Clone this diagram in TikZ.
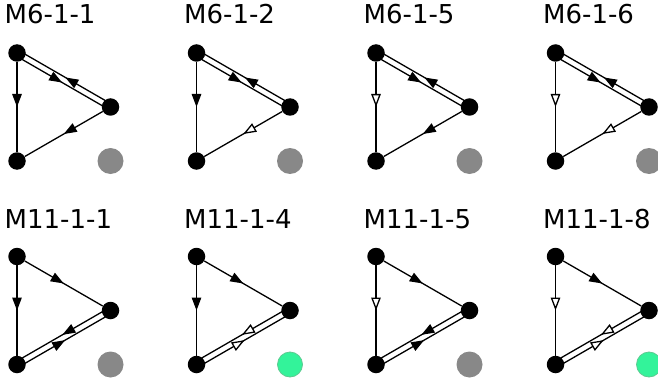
\documentclass[tikz,border=0pt]{standalone}
\usepackage{fontspec}
\setmainfont{DejaVu Sans}
\usetikzlibrary{positioning,calc,arrows.meta,decorations.markings}
\definecolor{flaggrey}{HTML}{888888}
\definecolor{flaggreen}{HTML}{33F39A}
\definecolor{flagedge}{HTML}{5CC990}
\tikzset{
vertex/.style={circle, fill=black, inner sep=0pt, minimum size=17.5pt},
flag/.style={circle, fill=flaggrey, inner sep=0pt, minimum size=26pt},
goodflag/.style={flag, fill=flaggreen, draw=flagedge, line width=0.8pt, minimum size=25pt},
title/.style={anchor=base west, inner sep=0pt, font=\fontsize{26}{31}\selectfont},
link/.style={line width=1.3pt},
fullmid/.style={link, postaction={decorate},
  decoration={markings, mark=at position 0.5 with {\arrow{Triangle[length=13pt,width=9.5pt]}}}},
openmid/.style={link, postaction={decorate},
  decoration={markings, mark=at position 0.5 with {\arrow{Triangle[length=13pt,width=9.5pt,fill=white]}}}},
}

\begin{document}
\begin{tikzpicture}
    [x=1pt, y=-1pt, on grid]

    \useasboundingbox (0,0) rectangle (658,385);

    \node [vertex] (t1) at (17,53) {};
    \node [vertex] (r1) [below right=54pt and 93.5pt of t1] {};
    \node [vertex] (b1) [below=108pt of t1] {};
    \node [flag] (f1) [below=54pt of r1] {};
    \node [title] (n1) at ([xshift=-12.5pt,yshift=29pt]t1.center) {M6-1-1};

    \node [vertex] (t2) [right=179.5pt of t1] {};
    \node [vertex] (r2) [below right=54pt and 93.5pt of t2] {};
    \node [vertex] (b2) [below=108pt of t2] {};
    \node [flag] (f2) [below=54pt of r2] {};
    \node [title] (n2) at ([xshift=-12.5pt,yshift=29pt]t2.center) {M6-1-2};

    \node [vertex] (t3) [right=179.5pt of t2] {};
    \node [vertex] (r3) [below right=54pt and 93.5pt of t3] {};
    \node [vertex] (b3) [below=108pt of t3] {};
    \node [flag] (f3) [below=54pt of r3] {};
    \node [title] (n3) at ([xshift=-12.5pt,yshift=29pt]t3.center) {M6-1-5};

    \node [vertex] (t4) [right=179.5pt of t3] {};
    \node [vertex] (r4) [below right=54pt and 93.5pt of t4] {};
    \node [vertex] (b4) [below=108pt of t4] {};
    \node [flag] (f4) [below=54pt of r4] {};
    \node [title] (n4) at ([xshift=-12.5pt,yshift=29pt]t4.center) {M6-1-6};

    \node [vertex] (t5) [below=203.5pt of t1] {};
    \node [vertex] (r5) [below right=54pt and 93.5pt of t5] {};
    \node [vertex] (b5) [below=108pt of t5] {};
    \node [flag] (f5) [below=54pt of r5] {};
    \node [title] (n5) at ([xshift=-12.5pt,yshift=28pt]t5.center) {M11-1-1};

    \node [vertex] (t6) [right=179.5pt of t5] {};
    \node [vertex] (r6) [below right=54pt and 93.5pt of t6] {};
    \node [vertex] (b6) [below=108pt of t6] {};
    \node [goodflag] (f6) [below=54pt of r6] {};
    \node [title] (n6) at ([xshift=-12.5pt,yshift=28pt]t6.center) {M11-1-4};

    \node [vertex] (t7) [right=179.5pt of t6] {};
    \node [vertex] (r7) [below right=54pt and 93.5pt of t7] {};
    \node [vertex] (b7) [below=108pt of t7] {};
    \node [flag] (f7) [below=54pt of r7] {};
    \node [title] (n7) at ([xshift=-12.5pt,yshift=28pt]t7.center) {M11-1-5};

    \node [vertex] (t8) [right=179.5pt of t7] {};
    \node [vertex] (r8) [below right=54pt and 93.5pt of t8] {};
    \node [vertex] (b8) [below=108pt of t8] {};
    \node [goodflag] (f8) [below=54pt of r8] {};
    \node [title] (n8) at ([xshift=-12.5pt,yshift=28pt]t8.center) {M11-1-8};

    \draw[fullmid] (t1) -- (b1);
    \draw[fullmid] ($(t1)!3pt!-90:(r1)$) -- ($(r1)!3pt!90:(t1)$);
    \draw[fullmid] ($(r1)!3pt!-90:(t1)$) -- ($(t1)!3pt!90:(r1)$);
    \draw[fullmid] (r1) -- (b1);

    \draw[fullmid] (t2) -- (b2);
    \draw[fullmid] ($(t2)!3pt!-90:(r2)$) -- ($(r2)!3pt!90:(t2)$);
    \draw[fullmid] ($(r2)!3pt!-90:(t2)$) -- ($(t2)!3pt!90:(r2)$);
    \draw[openmid] (r2) -- (b2);

    \draw[openmid] (t3) -- (b3);
    \draw[fullmid] ($(t3)!3pt!-90:(r3)$) -- ($(r3)!3pt!90:(t3)$);
    \draw[fullmid] ($(r3)!3pt!-90:(t3)$) -- ($(t3)!3pt!90:(r3)$);
    \draw[fullmid] (r3) -- (b3);

    \draw[openmid] (t4) -- (b4);
    \draw[fullmid] ($(t4)!3pt!-90:(r4)$) -- ($(r4)!3pt!90:(t4)$);
    \draw[fullmid] ($(r4)!3pt!-90:(t4)$) -- ($(t4)!3pt!90:(r4)$);
    \draw[openmid] (r4) -- (b4);

    \draw[fullmid] (t5) -- (r5);
    \draw[fullmid] (t5) -- (b5);
    \draw[fullmid] ($(r5)!3pt!-90:(b5)$) -- ($(b5)!3pt!90:(r5)$);
    \draw[fullmid] ($(b5)!3pt!-90:(r5)$) -- ($(r5)!3pt!90:(b5)$);

    \draw[fullmid] (t6) -- (r6);
    \draw[fullmid] (t6) -- (b6);
    \draw[openmid] ($(r6)!3pt!-90:(b6)$) -- ($(b6)!3pt!90:(r6)$);
    \draw[openmid] ($(b6)!3pt!-90:(r6)$) -- ($(r6)!3pt!90:(b6)$);

    \draw[fullmid] (t7) -- (r7);
    \draw[openmid] (t7) -- (b7);
    \draw[fullmid] ($(r7)!3pt!-90:(b7)$) -- ($(b7)!3pt!90:(r7)$);
    \draw[fullmid] ($(b7)!3pt!-90:(r7)$) -- ($(r7)!3pt!90:(b7)$);

    \draw[fullmid] (t8) -- (r8);
    \draw[openmid] (t8) -- (b8);
    \draw[openmid] ($(r8)!3pt!-90:(b8)$) -- ($(b8)!3pt!90:(r8)$);
    \draw[openmid] ($(b8)!3pt!-90:(r8)$) -- ($(r8)!3pt!90:(b8)$);

\end{tikzpicture}
\end{document}
